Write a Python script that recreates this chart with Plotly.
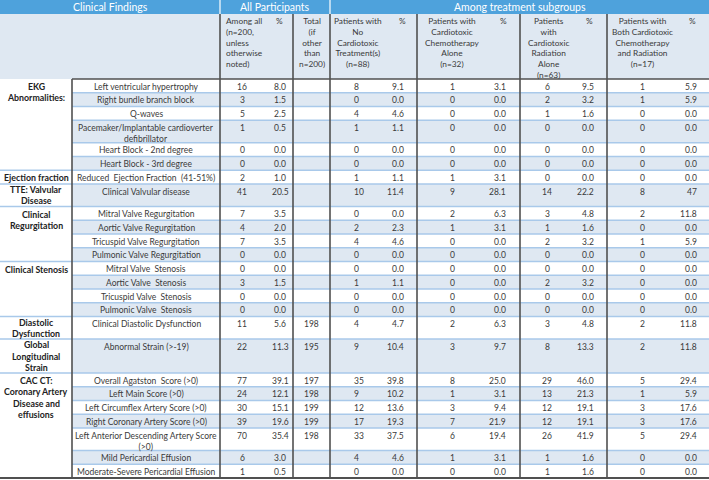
import plotly.graph_objects as go

# ---------------- data ----------------
group_labels = ["EKG<br>Abnormalities:", "Ejection fraction", "TTE: Valvular<br>Disease",
                "Clinical<br>Regurgitation", "Clinical Stenosis", "Diastolic<br>Dysfunction",
                "Global<br>Longitudinal<br>Strain", "CAC CT:<br>Coronary Artery<br>Disease and<br>effusions"]
group_sizes = [6, 1, 1, 4, 4, 1, 1, 7]

findings = ["Left ventricular hypertrophy", "Right bundle branch block", "Q-waves",
            "Pacemaker/Implantable cardioverter<br>defibrillator", "Heart Block - 2nd degree",
            "Heart Block - 3rd degree", "Reduced  Ejection Fraction  (41-51%)", "Clinical Valvular disease",
            "Mitral Valve Regurgitation", "Aortic Valve Regurgitation", "Tricuspid Valve Regurgitation",
            "Pulmonic Valve Regurgitation", "Mitral Valve  Stenosis", "Aortic Valve  Stenosis",
            "Tricuspid Valve  Stenosis", "Pulmonic Valve  Stenosis", "Clinical Diastolic Dysfunction",
            "Abnormal Strain (>-19)", "Overall Agatston  Score (>0)", "Left Main Score (>0)",
            "Left Circumflex Artery Score (>0)", "Right Coronary Artery Score (>0)",
            "Left Anterior Descending Artery Score<br>(>0)", "Mild Pericardial Effusion",
            "Moderate-Severe Pericardial Effusion"]

all_n = [16, 3, 5, 1, 0, 0, 2, 41, 7, 4, 7, 0, 0, 3, 0, 0, 11, 22, 77, 24, 30, 39, 70, 6, 1]
all_pct = ["8.0", "1.5", "2.5", "0.5", "0.0", "0.0", "1.0", "20.5", "3.5", "2.0", "3.5", "0.0", "0.0",
           "1.5", "0.0", "0.0", "5.6", "11.3", "39.1", "12.1", "15.1", "19.6", "35.4", "3.0", "0.5"]
total_n = ["", "", "", "", "", "", "", "", "", "", "", "", "", "", "", "", "198", "195", "197", "198",
           "199", "199", "198", "", ""]
none_n = [8, 0, 4, 1, 0, 0, 1, 10, 0, 2, 4, 0, 0, 1, 0, 0, 4, 9, 35, 9, 12, 17, 33, 4, 0]
none_pct = ["9.1", "0.0", "4.6", "1.1", "0.0", "0.0", "1.1", "11.4", "0.0", "2.3", "4.6", "0.0", "0.0",
            "1.1", "0.0", "0.0", "4.7", "10.4", "39.8", "10.2", "13.6", "19.3", "37.5", "4.6", "0.0"]
chemo_n = [1, 0, 0, 0, 0, 0, 1, 9, 2, 1, 0, 0, 0, 0, 0, 0, 2, 3, 8, 1, 3, 7, 6, 1, 0]
chemo_pct = ["3.1", "0.0", "0.0", "0.0", "0.0", "0.0", "3.1", "28.1", "6.3", "3.1", "0.0", "0.0", "0.0",
             "0.0", "0.0", "0.0", "6.3", "9.7", "25.0", "3.1", "9.4", "21.9", "19.4", "3.1", "0.0"]
rad_n = [6, 2, 1, 0, 0, 0, 0, 14, 3, 1, 2, 0, 0, 2, 0, 0, 3, 8, 29, 13, 12, 12, 26, 1, 1]
rad_pct = ["9.5", "3.2", "1.6", "0.0", "0.0", "0.0", "0.0", "22.2", "4.8", "1.6", "3.2", "0.0", "0.0",
           "3.2", "0.0", "0.0", "4.8", "13.3", "46.0", "21.3", "19.1", "19.1", "41.9", "1.6", "1.6"]
both_n = [1, 1, 0, 0, 0, 0, 0, 8, 2, 0, 1, 0, 0, 0, 0, 0, 2, 2, 5, 1, 3, 3, 5, 0, 0]
both_pct = ["5.9", "5.9", "0.0", "0.0", "0.0", "0.0", "0.0", "47", "11.8", "0.0", "5.9", "0.0", "0.0",
            "0.0", "0.0", "0.0", "11.8", "11.8", "29.4", "5.9", "17.6", "17.6", "29.4", "0.0", "0.0"]

top_headers = ["Clinical Findings", "All Participants", "Among treatment subgroups"]
sub_headers = ["Among all<br>(n=200,<br>unless<br>otherwise<br>noted)", "%",
               "Total<br>(if<br>other<br>than<br>n=200)",
               "Patients with<br>No<br>Cardiotoxic<br>Treatment(s)<br>(n=88)", "%",
               "Patients with<br>Cardiotoxic<br>Chemotherapy<br>Alone<br>(n=32)", "%",
               "Patients<br>with<br>Cardiotoxic<br>Radiation<br>Alone<br>(n=63)", "%",
               "Patients with<br>Both Cardiotoxic<br>Chemotherapy<br>and Radiation<br>(n=17)", "%"]

# ---------------- layout constants ----------------
W, H = 709, 480
FONT = "Lato"
TXT = "#3a3a3a"
BLUE = "#4ea2dc"
LIGHT = "#dfe8f2"
SEP = "#a9c9ea"
DARK = "#505050"

row_lines = [1, 1, 1, 2, 1, 1, 1, 2, 1, 1, 1, 1, 1, 1, 1, 1, 2, 3, 1, 1, 1, 1, 2, 1, 1]
line_h = {1: 13.75, 2: 22.5, 3: 34.0}
head_top, head_bot, data_top = 0, 14, 79
x_cat, x_find, x_end = 72, 220, W
top_spans = [(0, 220), (220, 330), (330, W)]
dark_vlines = [220, 293, 330, 417, 520, 607]
cat_line_step = 11.3

# value columns: (values, x, anchor)
value_cols = [(all_n, 242, "center"), (all_pct, 280, "center"), (total_n, 311, "center"),
              (none_n, 353, "left"), (none_pct, 405, "right"),
              (chemo_n, 452, "center"), (chemo_pct, 507, "right"),
              (rad_n, 547, "center"), (rad_pct, 595, "right"),
              (both_n, 642, "center"), (both_pct, 698, "right")]
sub_pos = [(225, "left"), (279, "center"), (312, "center"), (358, "center"), (402, "center"),
           (452, "center"), (503, "center"), (548, "center"), (589, "center"), (642, "center"),
           (692, "center")]

# row boundaries
tops = [data_top]
for n in row_lines:
    tops.append(tops[-1] + line_h[n])

shapes, annots = [], []


def rect(x0, y0, x1, y1, color):
    shapes.append(dict(type="rect", x0=x0, x1=x1, y0=y0, y1=y1, fillcolor=color,
                       line=dict(width=0), layer="below"))


def line(x0, y0, x1, y1, color, w):
    shapes.append(dict(type="line", x0=x0, x1=x1, y0=y0, y1=y1, line=dict(color=color, width=w)))


def text(x, y, s, anchor="center", size=8.5, color=TXT, bold=False, yanchor="top"):
    annots.append(dict(x=x, y=y, text=("<b>%s</b>" % s) if bold else s, showarrow=False,
                       xanchor=anchor, yanchor=yanchor, align=anchor,
                       font=dict(family=FONT, size=size, color=color), borderpad=0))


# header backgrounds
rect(0, head_top, W, head_bot, BLUE)
rect(0, head_bot, W, data_top, LIGHT)
for (a, b), t in zip(top_spans, top_headers):
    text((a + b) / 2, (head_top + head_bot) / 2, t, size=10.5, color="white", yanchor="middle")
for xv in [220, 330]:
    line(xv, head_top, xv, head_bot, "white", 1.2)
for (xv, anc), t in zip(sub_pos, sub_headers):
    text(xv, 15, t, anchor=anc, size=8.3)

# row fills and separators
for i in range(len(findings)):
    if i % 2 == 1:
        rect(x_cat, tops[i], x_end, tops[i + 1], LIGHT)
    if i > 0:
        line(x_cat, tops[i], x_end, tops[i], SEP, 1.3)

# group labels (one-row groups centred in their row, others top-aligned)
start = 0
for lab, size in zip(group_labels, group_sizes):
    parts = lab.split("<br>")
    if size == 1:
        mid = (tops[start] + tops[start + 1]) / 2
        first = mid - (len(parts) - 1) * cat_line_step / 2
    else:
        first = tops[start] + 7.5
    for k, p in enumerate(parts):
        text(x_cat / 2, first + k * cat_line_step, p, bold=True, size=8.8, color="#222222",
             yanchor="middle")
    if start > 0:
        line(0, tops[start], x_cat, tops[start], SEP, 1.3)
    start += size

# findings and values
for i, f in enumerate(findings):
    y = tops[i] + 1.5
    text((x_cat + x_find) / 2, y, f)
    for vals, xv, anc in value_cols:
        text(xv, y, str(vals[i]), anchor=anc)

# dark borders
for xv in dark_vlines:
    line(xv, head_bot, xv, tops[-1], DARK, 1.6)
line(x_cat, data_top, x_cat, tops[-1], DARK, 1.6)
line(x_cat, data_top, x_end, data_top, DARK, 1.6)
line(0, tops[-1], x_end, tops[-1], DARK, 1.8)

fig = go.Figure()
fig.update_layout(width=W, height=H, margin=dict(l=0, r=0, t=0, b=0),
                  paper_bgcolor="white", plot_bgcolor="white",
                  xaxis=dict(range=[0, W], visible=False, fixedrange=True),
                  yaxis=dict(range=[H, 0], visible=False, fixedrange=True),
                  shapes=shapes, annotations=annots, showlegend=False)
fig.write_html("out.html", config={"displayModeBar": False},
               post_script="document.body.style.margin='0';document.body.style.overflow='hidden';")
